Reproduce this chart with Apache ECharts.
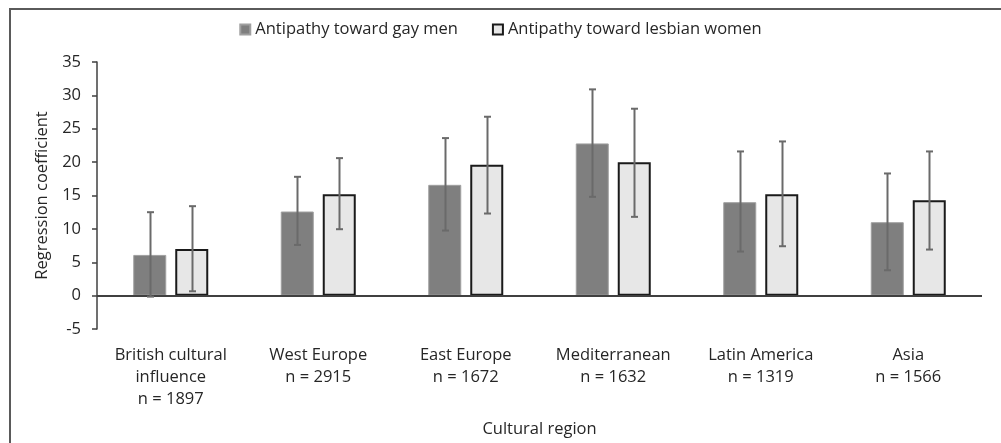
<!DOCTYPE html>
<html>
<head>
<meta charset="utf-8">
<script src="https://cdn.jsdelivr.net/npm/echarts@6/dist/echarts.min.js"></script>
<style>
  html, body { margin: 0; padding: 0; background: #fff; }
  #chart { width: 1001px; height: 443px; }
</style>
</head>
<body>
<div id="chart"></div>
<script>
const categories = ['British cultural\ninfluence\nn = 1897', 'West Europe\nn = 2915', 'East Europe\nn = 1672', 'Mediterranean\nn = 1632', 'Latin America\nn = 1319', 'Asia\nn = 1566'];
const gayMen = [6.1, 12.6, 16.6, 22.8, 14.0, 11.0];
const gayLow = [-0.15, 7.6, 9.75, 14.8, 6.6, 3.8];
const gayHigh = [12.5, 17.8, 23.6, 30.9, 21.6, 18.3];
const lesbianWomen = [7.0, 15.2, 19.6, 20.0, 15.2, 14.3];
const lesLow = [0.65, 9.95, 12.3, 11.8, 7.4, 6.9];
const lesHigh = [13.4, 20.6, 26.8, 28.0, 23.1, 21.6];
const yTicks = [-5, 0, 5, 10, 15, 20, 25, 30, 35];

const FONT = '"Open Sans", sans-serif';
const BAR_W = 33, GAP = 9;
const chart = echarts.init(document.getElementById('chart'));

function errorSeries(low, high, sign) {
  return {
    type: 'custom',
    data: low.map((l, i) => [i, l, high[i]]),
    z: 10,
    silent: true,
    renderItem: function (params, api) {
      const off = sign * (BAR_W + GAP) / 2;
      const p1 = api.coord([api.value(0), api.value(1)]);
      const p2 = api.coord([api.value(0), api.value(2)]);
      const x = Math.round(p1[0] + off) + 0.5;
      const cap = 3.5;
      const st = { stroke: '#6a6a6a', lineWidth: 2, fill: null };
      return {
        type: 'group',
        children: [
          { type: 'line', shape: { x1: x, y1: p1[1], x2: x, y2: p2[1] }, style: st },
          { type: 'line', shape: { x1: x - cap, y1: p1[1], x2: x + cap, y2: p1[1] }, style: st },
          { type: 'line', shape: { x1: x - cap, y1: p2[1], x2: x + cap, y2: p2[1] }, style: st }
        ]
      };
    }
  };
}

chart.setOption({
  animation: false,
  backgroundColor: '#fff',
  textStyle: { fontFamily: FONT },
  graphic: [{
    type: 'polyline',
    shape: { points: [[10, 460], [10, 9], [1010, 9]] },
    style: { stroke: '#5a5a5a', lineWidth: 2, fill: null }
  }],
  legend: {
    top: 16,
    left: 'center',
    itemWidth: 10,
    itemHeight: 10,
    itemGap: 34,
    textStyle: { fontFamily: FONT, fontSize: 16.5, color: '#262626' },
    data: [
      { name: 'Antipathy toward gay men', icon: 'rect' },
      { name: 'Antipathy toward lesbian women', icon: 'rect' }
    ]
  },
  grid: { left: 97, right: 19, top: 62, bottom: 112, containLabel: false },
  xAxis: {
    type: 'category',
    data: categories,
    name: 'Cultural region',
    nameLocation: 'middle',
    nameGap: 92,
    nameTextStyle: { fontFamily: FONT, fontSize: 16.5, color: '#262626' },
    axisLine: { show: false, onZero: false },
    axisTick: { show: false },
    axisLabel: { margin: 15, fontFamily: FONT, fontSize: 16.5, color: '#262626', lineHeight: 22, interval: 0 }
  },
  yAxis: {
    type: 'value',
    min: -5, max: 35, interval: 5,
    name: 'Regression coefficient',
    nameLocation: 'middle',
    nameGap: 44,
    nameTextStyle: { fontFamily: FONT, fontSize: 16.5, color: '#262626' },
    axisLine: { show: true, lineStyle: { color: '#404040', width: 1.5 } },
    axisTick: { show: true, length: 5, lineStyle: { color: '#404040', width: 1.5 } },
    axisLabel: { margin: 16, fontFamily: FONT, fontSize: 16.5, color: '#262626',
      formatter: v => yTicks.includes(v) ? String(v) : '' },
    splitLine: { show: false }
  },
  series: [
    {
      name: 'Antipathy toward gay men',
      type: 'bar',
      data: gayMen,
      barWidth: BAR_W,
      barGap: (GAP / BAR_W * 100) + '%',
      itemStyle: { color: '#7f7f7f', borderColor: '#a0a0a0', borderWidth: 1 },
      markLine: {
        silent: true,
        symbol: 'none',
        label: { show: false },
        lineStyle: { color: '#404040', width: 2, type: 'solid' },
        data: [{ yAxis: 0 }]
      }
    },
    {
      name: 'Antipathy toward lesbian women',
      type: 'bar',
      data: lesbianWomen,
      barWidth: BAR_W,
      itemStyle: { color: '#e7e7e7', borderColor: '#1a1a1a', borderWidth: 2 }
    },
    errorSeries(gayLow, gayHigh, -1),
    errorSeries(lesLow, lesHigh, 1)
  ]
});
</script>
</body>
</html>
